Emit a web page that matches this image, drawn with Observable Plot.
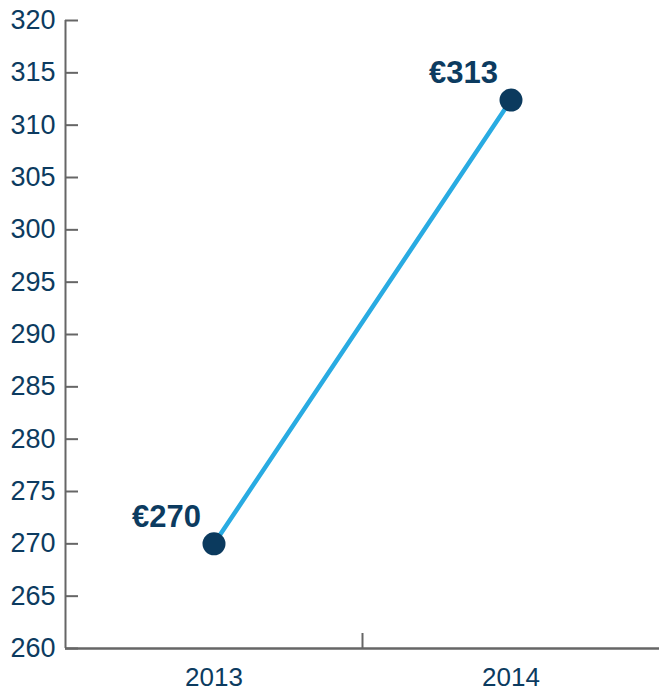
<!DOCTYPE html>
<html>
<head>
<meta charset="utf-8">
<script src="https://cdn.jsdelivr.net/npm/d3@7"></script>
<script src="https://cdn.jsdelivr.net/npm/@observablehq/plot@0.6"></script>
<style>
  html, body { margin: 0; padding: 0; background: #fff; }
  svg { display: block; }
</style>
</head>
<body>
<div id="chart"></div>
<script>
const years = [2013, 2014];
const values = [270, 312.4];
const valueLabels = ["€270", "€313"];
const yTicks = [260, 265, 270, 275, 280, 285, 290, 295, 300, 305, 310, 315, 320];
const xBoundary = [2013.5];

const data = years.map((y, i) => ({year: y, value: values[i], label: valueLabels[i]}));

const navy = "#0c3b60";
const axisGray = "#666666";

const chart = Plot.plot({
  width: 659,
  height: 692,
  marginLeft: 65,
  marginRight: 0,
  marginTop: 20,
  marginBottom: 44,
  style: {fontFamily: "'Liberation Sans', Arial, sans-serif", background: "#fff", color: navy},
  x: {domain: [2012.5, 2014.5]},
  y: {domain: [260, 320]},
  marks: [
    Plot.axisY({ticks: yTicks, tickSize: 0, tickPadding: 10, fontSize: 27, fill: navy, label: null, tickFormat: d => String(d)}),
    Plot.axisY({ticks: yTicks, tickSize: 13, dx: 13, stroke: axisGray, strokeWidth: 2, strokeOpacity: 1, tickFormat: () => "", label: null}),
    Plot.axisX({ticks: years, tickSize: 0, tickPadding: 19, fontSize: 26, fill: navy, label: null, tickFormat: d => String(d)}),
    Plot.axisX({ticks: xBoundary, tickSize: 15, dy: -15, stroke: axisGray, strokeWidth: 2, strokeOpacity: 1, tickFormat: () => "", label: null}),
    Plot.ruleX([2012.5], {y1: 260, y2: 320, stroke: axisGray, strokeWidth: 2}),
    Plot.ruleY([260], {x1: 2012.5, x2: 2014.5, stroke: axisGray, strokeWidth: 2.5}),
    Plot.line(data, {x: "year", y: "value", stroke: "#29abe2", strokeWidth: 4.5}),
    Plot.dot(data, {x: "year", y: "value", r: 11.5, fill: "#0b3a5e", stroke: "none"}),
    Plot.text(data, {x: "year", y: "value", text: "label", textAnchor: "end", lineAnchor: "middle", dx: -13, dy: -27, fontSize: 31, fontWeight: "bold", fill: navy})
  ]
});
document.getElementById("chart").appendChild(chart);
</script>
</body>
</html>
